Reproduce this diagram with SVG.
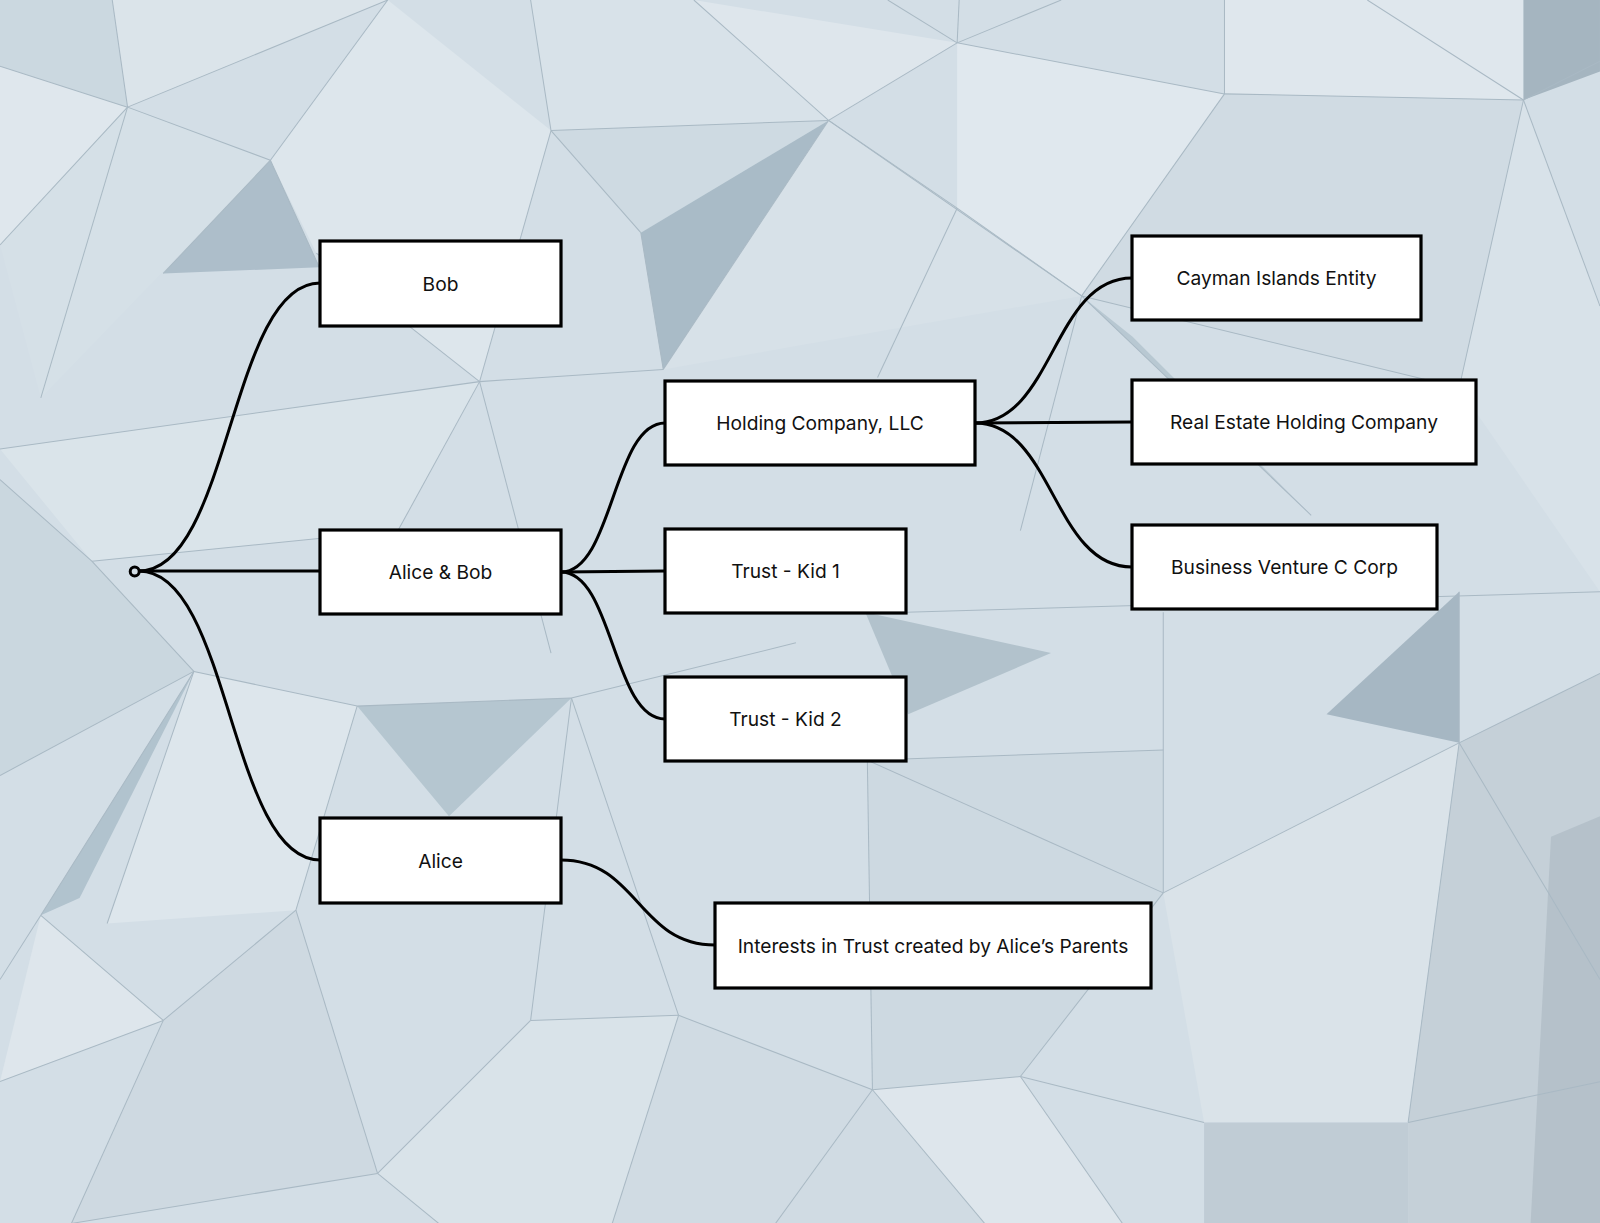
<svg xmlns="http://www.w3.org/2000/svg" width="1600" height="1223" viewBox="0 0 1600 1223">
<style>
.bgl{fill:none;stroke:#a9b9c4;stroke-width:1}
.n rect{fill:#ffffff;stroke:#000000;stroke-width:3.2}
.n text{font-family:Inter,"Liberation Sans",sans-serif;font-size:19.2px;fill:#111111;text-anchor:middle;dominant-baseline:central}
.c path{fill:none;stroke:#000000;stroke-width:3}
</style>
<g id="background">
<rect x="0" y="0" width="1600" height="1223" fill="#d3dee6"/>
<g transform="scale(1.0204)">
<polygon points="0,0 110,0 125,105 0,65" fill="#cbd8e0"/>
<polygon points="110,0 380,0 125,105" fill="#dbe4ea"/>
<polygon points="0,65 125,105 0,240" fill="#dfe7ed"/>
<polygon points="125,105 265,157 40,390 0,240" fill="#d5e0e7"/>
<polygon points="265,157 380,0 540,128 470,374 310,248" fill="#dde6ec"/>
<polygon points="160,268 265,157 313,262" fill="#adbeca"/>
<polygon points="540,128 812,118 628,228" fill="#cedae2"/>
<polygon points="628,228 812,118 650,362" fill="#a9bbc7"/>
<polygon points="520,0 680,0 812,118 540,128" fill="#d8e2e9"/>
<polygon points="680,0 938,42 812,118" fill="#dee6ec"/>
<polygon points="812,118 938,204 1060,290 650,362" fill="#d7e1e8"/>
<polygon points="938,42 1200,92 1060,290 938,204" fill="#e0e8ee"/>
<polygon points="1200,0 1493,0 1493,98 1200,92" fill="#dfe7ed"/>
<polygon points="1493,0 1568,0 1568,70 1493,98" fill="#a5b5c0"/>
<polygon points="1060,290 1110,330 1285,505" fill="#b8c8d2"/>
<polygon points="1200,92 1493,98 1430,380 1060,290" fill="#d0dbe3"/>
<polygon points="1493,98 1568,300 1568,580 1430,380" fill="#d8e2e9"/>
<polygon points="0,440 470,374 390,520 90,550" fill="#dae4ea"/>
<polygon points="90,550 190,658 0,760 0,470" fill="#cad7df"/>
<polygon points="40,897 190,658 78,880" fill="#b1c3ce"/>
<polygon points="190,658 350,692 290,892 105,905" fill="#dde6ec"/>
<polygon points="350,692 560,684 440,800" fill="#b5c6d0"/>
<polygon points="848,600 1030,640 890,700" fill="#b2c2cc"/>
<polygon points="1300,700 1430,580 1430,728" fill="#a6b7c3"/>
<polygon points="850,745 1140,735 1140,875 1000,1055 855,1068" fill="#cdd9e1"/>
<polygon points="1140,875 1430,728 1380,1100 1180,1100" fill="#dae3e9"/>
<polygon points="1430,728 1568,660 1568,1199 1380,1199 1380,1100" fill="#c5d0d8"/>
<polygon points="1520,820 1568,800 1568,1199 1500,1199" fill="#b5c1ca"/>
<polygon points="1180,1100 1380,1100 1380,1199 1180,1199" fill="#c0ccd5"/>
<polygon points="40,897 160,1000 0,1060" fill="#dee6ec"/>
<polygon points="160,1000 290,892 370,1150 70,1199" fill="#ced9e1"/>
<polygon points="370,1150 520,1000 665,995 600,1199 430,1199" fill="#d9e3e9"/>
<polygon points="665,995 855,1068 965,1199 600,1199" fill="#d0dbe3"/>
<polygon points="855,1068 1000,1055 1100,1199 965,1199" fill="#dee6ec"/>
<line class="bgl" x1="0" y1="65" x2="125" y2="105"/>
<line class="bgl" x1="110" y1="0" x2="125" y2="105"/>
<line class="bgl" x1="125" y1="105" x2="380" y2="0"/>
<line class="bgl" x1="125" y1="105" x2="0" y2="240"/>
<line class="bgl" x1="125" y1="105" x2="265" y2="157"/>
<line class="bgl" x1="125" y1="105" x2="40" y2="390"/>
<line class="bgl" x1="265" y1="157" x2="160" y2="268"/>
<line class="bgl" x1="265" y1="157" x2="313" y2="262"/>
<line class="bgl" x1="265" y1="157" x2="380" y2="0"/>
<line class="bgl" x1="540" y1="128" x2="812" y2="118"/>
<line class="bgl" x1="540" y1="128" x2="520" y2="0"/>
<line class="bgl" x1="540" y1="128" x2="470" y2="374"/>
<line class="bgl" x1="812" y1="118" x2="680" y2="0"/>
<line class="bgl" x1="812" y1="118" x2="938" y2="204"/>
<line class="bgl" x1="812" y1="118" x2="938" y2="42"/>
<line class="bgl" x1="938" y1="42" x2="940" y2="0"/>
<line class="bgl" x1="938" y1="42" x2="1040" y2="0"/>
<line class="bgl" x1="938" y1="42" x2="870" y2="0"/>
<line class="bgl" x1="938" y1="42" x2="1200" y2="92"/>
<line class="bgl" x1="1200" y1="92" x2="1493" y2="98"/>
<line class="bgl" x1="1200" y1="92" x2="1200" y2="0"/>
<line class="bgl" x1="1493" y1="98" x2="1568" y2="60"/>
<line class="bgl" x1="1493" y1="98" x2="1430" y2="380"/>
<line class="bgl" x1="1493" y1="98" x2="1568" y2="300"/>
<line class="bgl" x1="1493" y1="98" x2="1340" y2="0"/>
<line class="bgl" x1="812" y1="118" x2="650" y2="362"/>
<line class="bgl" x1="628" y1="228" x2="650" y2="362"/>
<line class="bgl" x1="628" y1="228" x2="540" y2="128"/>
<line class="bgl" x1="812" y1="118" x2="1060" y2="290"/>
<line class="bgl" x1="938" y1="204" x2="1060" y2="290"/>
<line class="bgl" x1="938" y1="204" x2="860" y2="370"/>
<line class="bgl" x1="470" y1="374" x2="0" y2="440"/>
<line class="bgl" x1="470" y1="374" x2="650" y2="362"/>
<line class="bgl" x1="470" y1="374" x2="390" y2="520"/>
<line class="bgl" x1="470" y1="374" x2="540" y2="640"/>
<line class="bgl" x1="470" y1="374" x2="310" y2="248"/>
<line class="bgl" x1="1060" y1="290" x2="1200" y2="92"/>
<line class="bgl" x1="1060" y1="290" x2="1285" y2="505"/>
<line class="bgl" x1="1060" y1="290" x2="1000" y2="520"/>
<line class="bgl" x1="1060" y1="290" x2="1430" y2="380"/>
<line class="bgl" x1="90" y1="550" x2="0" y2="470"/>
<line class="bgl" x1="90" y1="550" x2="190" y2="658"/>
<line class="bgl" x1="90" y1="550" x2="390" y2="520"/>
<line class="bgl" x1="190" y1="658" x2="0" y2="760"/>
<line class="bgl" x1="190" y1="658" x2="40" y2="897"/>
<line class="bgl" x1="190" y1="658" x2="350" y2="692"/>
<line class="bgl" x1="190" y1="658" x2="105" y2="905"/>
<line class="bgl" x1="350" y1="692" x2="560" y2="684"/>
<line class="bgl" x1="350" y1="692" x2="290" y2="892"/>
<line class="bgl" x1="560" y1="684" x2="665" y2="995"/>
<line class="bgl" x1="560" y1="684" x2="520" y2="1000"/>
<line class="bgl" x1="560" y1="684" x2="780" y2="630"/>
<line class="bgl" x1="40" y1="897" x2="0" y2="960"/>
<line class="bgl" x1="40" y1="897" x2="160" y2="1000"/>
<line class="bgl" x1="160" y1="1000" x2="290" y2="892"/>
<line class="bgl" x1="160" y1="1000" x2="70" y2="1199"/>
<line class="bgl" x1="160" y1="1000" x2="0" y2="1060"/>
<line class="bgl" x1="665" y1="995" x2="855" y2="1068"/>
<line class="bgl" x1="855" y1="1068" x2="1000" y2="1055"/>
<line class="bgl" x1="855" y1="1068" x2="850" y2="745"/>
<line class="bgl" x1="1000" y1="1055" x2="1140" y2="875"/>
<line class="bgl" x1="1140" y1="875" x2="1430" y2="728"/>
<line class="bgl" x1="1140" y1="875" x2="850" y2="745"/>
<line class="bgl" x1="1140" y1="875" x2="1140" y2="600"/>
<line class="bgl" x1="1430" y1="728" x2="1568" y2="660"/>
<line class="bgl" x1="1430" y1="728" x2="1380" y2="1100"/>
<line class="bgl" x1="1430" y1="728" x2="1568" y2="960"/>
<line class="bgl" x1="1430" y1="728" x2="1430" y2="580"/>
<line class="bgl" x1="370" y1="1150" x2="290" y2="892"/>
<line class="bgl" x1="370" y1="1150" x2="520" y2="1000"/>
<line class="bgl" x1="370" y1="1150" x2="430" y2="1199"/>
<line class="bgl" x1="370" y1="1150" x2="70" y2="1199"/>
<line class="bgl" x1="665" y1="995" x2="600" y2="1199"/>
<line class="bgl" x1="665" y1="995" x2="520" y2="1000"/>
<line class="bgl" x1="855" y1="1068" x2="965" y2="1199"/>
<line class="bgl" x1="855" y1="1068" x2="760" y2="1199"/>
<line class="bgl" x1="1000" y1="1055" x2="1100" y2="1199"/>
<line class="bgl" x1="1000" y1="1055" x2="1180" y2="1100"/>
<line class="bgl" x1="850" y1="745" x2="1140" y2="735"/>
<line class="bgl" x1="888" y1="600" x2="1568" y2="580"/>
<line class="bgl" x1="1380" y1="1100" x2="1568" y2="1060"/>
</g>
</g>
<g id="connectors" class="c">
<path d="M139,571 C230,571 230,283 320,283"/>
<path d="M139,571 L320,571"/>
<path d="M139,571 C230,571 230,860 320,860"/>
<path d="M561,572 C613,572 613,423 665,423"/>
<path d="M561,572 L665,571"/>
<path d="M561,572 C613,572 613,719 665,719"/>
<path d="M975,423 C1053,423 1053,278 1132,278"/>
<path d="M975,423 L1132,422"/>
<path d="M975,423 C1053,423 1053,567 1132,567"/>
<path d="M561,860 C638,860 638,945 715,945"/>
<circle cx="134.7" cy="571.4" r="4.5" fill="none" stroke="#000" stroke-width="3"/>
</g>
<g id="node-bob" class="n"><rect x="320" y="241" width="241" height="85"/><text x="440.5" y="283.5">Bob</text></g>
<g id="node-alice-bob" class="n"><rect x="320" y="530" width="241" height="84"/><text x="440.5" y="572">Alice &amp; Bob</text></g>
<g id="node-alice" class="n"><rect x="320" y="818" width="241" height="85"/><text x="440.5" y="860.5">Alice</text></g>
<g id="node-holding" class="n"><rect x="665" y="381" width="310" height="84"/><text x="820" y="423">Holding Company, LLC</text></g>
<g id="node-trust-kid1" class="n"><rect x="665" y="529" width="241" height="84"/><text x="785.5" y="571">Trust - Kid 1</text></g>
<g id="node-trust-kid2" class="n"><rect x="665" y="677" width="241" height="84"/><text x="785.5" y="719">Trust - Kid 2</text></g>
<g id="node-cayman" class="n"><rect x="1132" y="236" width="289" height="84"/><text x="1276.5" y="278">Cayman Islands Entity</text></g>
<g id="node-real-estate" class="n"><rect x="1132" y="380" width="344" height="84"/><text x="1304" y="422">Real Estate Holding Company</text></g>
<g id="node-business" class="n"><rect x="1132" y="525" width="305" height="84"/><text x="1284.5" y="567">Business Venture C Corp</text></g>
<g id="node-interests" class="n"><rect x="715" y="903" width="436" height="85"/><text x="933" y="945.5">Interests in Trust created by Alice’s Parents</text></g>
</svg>
